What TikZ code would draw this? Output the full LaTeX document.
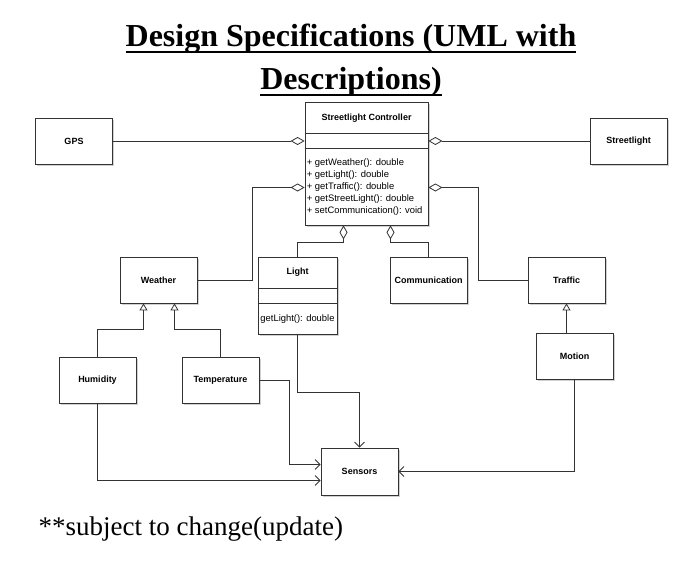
\documentclass[tikz,border=0pt]{standalone}
\usepackage{fontspec}
\setmainfont{Liberation Serif}
\setsansfont{Liberation Sans}
\usetikzlibrary{arrows.meta,shadows}
\newcommand{\titleline}[1]{\setbox0\hbox{#1}\rlap{\rule[-6.5pt]{\wd0}{2.2pt}}\box0}

\begin{document}
\begin{tikzpicture}[x=1pt,y=-1pt,line width=.8pt,
  box/.style={draw=black!80,fill=white,inner sep=0pt,minimum width=77pt,minimum height=46pt,
    font=\sffamily\bfseries\fontsize{9}{10}\selectfont,
    drop shadow={shadow xshift=1.5pt,shadow yshift=-1.5pt,fill=black!30,opacity=.6}},
  ops/.style={font=\sffamily\fontsize{9.4}{12.2}\selectfont,inner sep=0pt,align=left},
  link/.style={draw=black!80},
  aggr/.style={link,-{Diamond[open,length=14pt,width=8pt]}},
  gen/.style={link,-{Triangle[open,length=7pt,width=8pt]}},
  uses/.style={link,-{Straight Barb[length=5pt,width=10pt]}}]
\useasboundingbox (0,0) rectangle (700,583);
\node[font=\bfseries\fontsize{32}{43}\selectfont,align=center] (title) at (351,60) {\titleline{Design Specifications (UML with}\\\titleline{Descriptions)}};
% classes
\node[box] (gps) at (74,141) {GPS};
\node[box] (sl) at (628.5,141) {Streetlight};
\node[box,minimum width=123pt,minimum height=123pt] (ctrl) at (366.5,163.5) {};
\draw[link] (ctrl.west|-0,133) -- (ctrl.east|-0,133) (ctrl.west|-0,148) -- (ctrl.east|-0,148);
\node[font=\sffamily\bfseries\fontsize{9}{10}\selectfont] (ctrlname) at (366.5,118) {Streetlight Controller};
\node[ops,anchor=west] (ctrlops) at (306.5,187) {+ getWeather(): double\\+ getLight(): double\\+ getTraffic(): double\\+ getStreetLight(): double\\+ setCommunication(): void};
\node[box] (weather) at (158.5,280) {Weather};
\node[box,minimum width=79pt,minimum height=77pt] (light) at (297.5,295.5) {};
\draw[link] (light.west|-0,288) -- (light.east|-0,288) (light.west|-0,303) -- (light.east|-0,303);
\node[font=\sffamily\bfseries\fontsize{9}{10}\selectfont] (lightname) at (297.5,272) {Light};
\node[ops] (lightops) at (297.5,319) {getLight(): double};
\node[box] (comm) at (428.5,280) {Communication};
\node[box] (traffic) at (566.5,280) {Traffic};
\node[box] (motion) at (574.5,356.5) {Motion};
\node[box] (humidity) at (97.5,380) {Humidity};
\node[box] (temp) at (220.5,380) {Temperature};
\node[box,minimum height=47pt] (sensors) at (359.5,471.5) {Sensors};
% aggregation
\draw[aggr] (gps) -- (gps-|ctrl.west);
\draw[aggr] (sl) -- (sl-|ctrl.east);
\coordinate (wbend) at (252.5,187.5);
\draw[aggr] (weather.east) -| (wbend) -- (wbend-|ctrl.west);
\coordinate (tbend) at (478.5,187.5);
\draw[aggr] (traffic.west) -| (tbend) -- (tbend-|ctrl.east);
\coordinate (lbend) at (343.5,242.5);
\draw[aggr] (light.north) |- (lbend) -- (lbend|-ctrl.south);
\coordinate (cbend) at (390.5,242.5);
\draw[aggr] (comm.north) |- (cbend) -- (cbend|-ctrl.south);
% generalisation
\coordinate (hbend) at (143.5,329.5);
\draw[gen] (humidity.north) |- (hbend) -- (hbend|-weather.south);
\coordinate (tpbend) at (174.5,329.5);
\draw[gen] (temp.north) |- (tpbend) -- (tpbend|-weather.south);
\draw[gen] (motion.north-|traffic.south) -- (traffic.south);
% sensors
\coordinate (tsbend) at (289.5,464.5);
\draw[uses] (temp.east) -| (tsbend) -- (tsbend-|sensors.west);
\coordinate (hsbend) at (97.5,480.5);
\draw[uses] (humidity.south) -- (hsbend) -- (hsbend-|sensors.west);
\coordinate (lsbend) at (297.5,392.5);
\draw[uses] (light.south) -- (lsbend) -| (sensors.north);
\draw[uses] (motion.south) |- (sensors.east);
\node[font=\fontsize{27}{30}\selectfont,anchor=base west] (note) at (35,535) {**subject to change(update)};
\end{tikzpicture}
\end{document}
